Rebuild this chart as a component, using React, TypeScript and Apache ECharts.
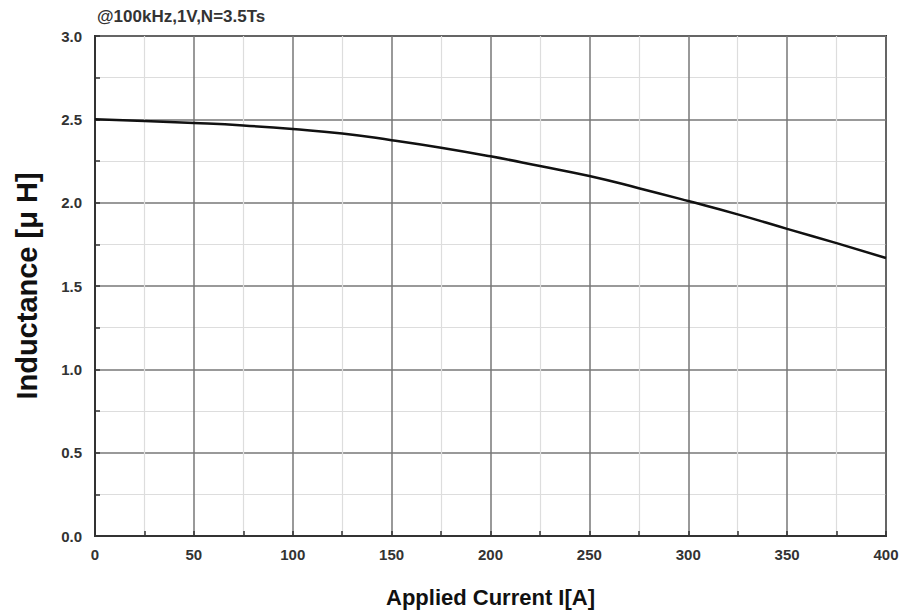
import React, { useEffect, useRef } from "react";
import * as echarts from "echarts";

const currentA: number[] = [0, 25, 50, 75, 100, 125, 150, 175, 200, 225, 250, 275, 300, 325, 350, 375, 400];
const inductanceUH: number[] = [2.5, 2.49, 2.478, 2.463, 2.442, 2.415, 2.375, 2.33, 2.278, 2.22, 2.16, 2.087, 2.01, 1.93, 1.843, 1.757, 1.668];
const subtitle = "@100kHz,1V,N=3.5Ts";
const xTitle = "Applied Current I[A]";
const yTitle = "Inductance [\u03bc H]";

export default function App() {
  const ref = useRef<HTMLDivElement>(null);
  useEffect(() => {
    if (!ref.current) return;
    const chart = echarts.init(ref.current, undefined, { renderer: "svg" });
    const font = "'Liberation Sans', Arial, sans-serif";
    chart.setOption({
      animation: false,
      backgroundColor: "#ffffff",
      title: {
        text: subtitle,
        left: 97,
        top: 8,
        padding: 0,
        textStyle: { fontFamily: font, fontSize: 17, fontWeight: "bold", color: "#333" },
      },
      grid: {
        left: 95,
        right: 13,
        top: 36,
        bottom: 77,
        show: true,
        borderColor: "#333",
        borderWidth: 2,
        backgroundColor: "transparent",
        outerBoundsMode: "none",
        containLabel: false,
      },
      xAxis: {
        type: "value",
        min: 0,
        max: 400,
        interval: 50,
        name: xTitle,
        nameLocation: "middle",
        nameGap: 50,
        nameTextStyle: { fontFamily: font, fontSize: 22, fontWeight: "bold", color: "#111" },
        axisLine: { show: true, lineStyle: { color: "#333", width: 2 } },
        axisTick: { show: true, inside: true, length: 5, lineStyle: { color: "#333", width: 1.5 } },
        minorTick: { show: true, splitNumber: 2, length: 5, lineStyle: { color: "#333", width: 1.5 } },
        axisLabel: { fontFamily: font, fontSize: 15, fontWeight: "bold", color: "#333", margin: 11 },
        splitLine: { show: true, lineStyle: { color: "#777", width: 1.5 } },
        minorSplitLine: { show: true, lineStyle: { color: "#ddd", width: 1.2 } },
      },
      yAxis: {
        type: "value",
        min: 0,
        max: 3,
        interval: 0.5,
        name: yTitle,
        nameLocation: "middle",
        nameGap: 54,
        nameTextStyle: { fontFamily: font, fontSize: 29, fontWeight: "bold", color: "#111" },
        axisLine: { show: true, lineStyle: { color: "#333", width: 2 } },
        axisTick: { show: true, inside: true, length: 5, lineStyle: { color: "#333", width: 1.5 } },
        minorTick: { show: true, splitNumber: 2, length: 5, lineStyle: { color: "#333", width: 1.5 } },
        axisLabel: {
          fontFamily: font,
          fontSize: 15,
          fontWeight: "bold",
          color: "#333",
          margin: 13,
          formatter: (v: number) => v.toFixed(1),
        },
        splitLine: { show: true, lineStyle: { color: "#777", width: 1.5 } },
        minorSplitLine: { show: true, lineStyle: { color: "#ddd", width: 1.2 } },
      },
      series: [
        {
          type: "line",
          data: currentA.map((x, i) => [x, inductanceUH[i]]),
          smooth: true,
          showSymbol: false,
          lineStyle: { color: "#111", width: 2.5 },
        },
      ],
    });
    return () => chart.dispose();
  }, []);
  return <div ref={ref} style={{ width: 899, height: 613, position: "absolute", left: 0, top: 0 }} />;
}
